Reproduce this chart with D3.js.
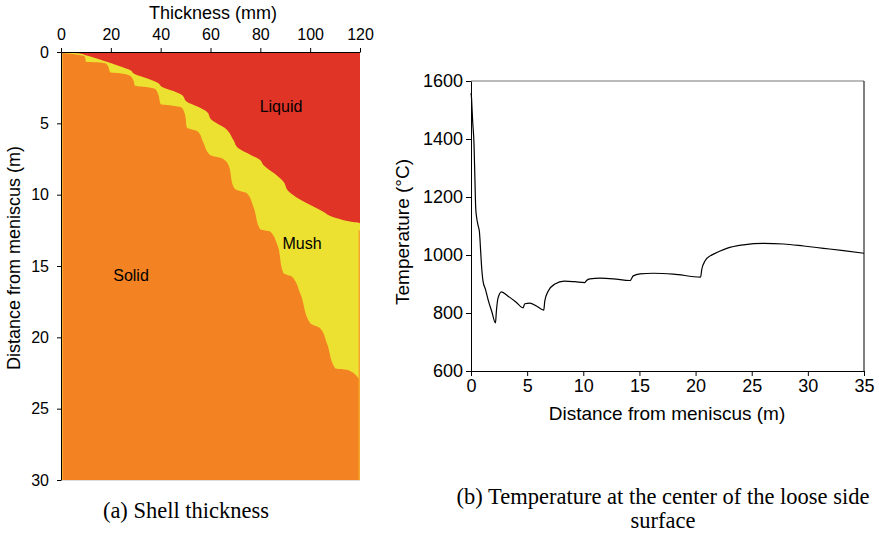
<!doctype html>
<html>
  <head>
    <script src="https://cdn.jsdelivr.net/npm/d3@7"></script>
    <style>
      body, html {
        margin: 0;
        background: #fff;
      }
      svg {
        position: absolute;
        width: 879px;
        height: 537px;
        font-family: "Liberation Sans", Arial, sans-serif;
      }
      .axis path, .axis line {
        stroke: #000;
        stroke-width: 1px;
      }
      .axis text {
        fill: #000;
      }
      .caption {
        font-family: "Liberation Serif", "Times New Roman", serif;
        font-size: 22.5px;
      }
    </style>
  </head>
  <body>
    <svg width="879" height="537"></svg>
    <script>

      // (a) shell thickness: boundaries, thickness in mm vs distance in m
      var solidThick = [0, 4, 7.6, 9.6, 10, 14, 17.7, 19, 19.7, 24, 27.7, 29, 29.7, 34, 37.8, 39.1, 40,
        44, 48.5, 49.8, 50.5, 55, 57, 59.8, 64.5, 67.2, 69.2, 70.6, 74.6, 77.2, 79.9, 83.9, 86.6, 89.3,
        92.7, 96, 100, 104, 106.7, 110, 114.7, 118.8, 120, 120];
      var solidDist = [0.05, 0.12, 0.21, 0.33, 0.68, 0.72, 0.79, 1.03, 1.42, 1.5, 1.66, 1.96, 2.36, 2.45,
        2.59, 3.01, 3.67, 3.75, 3.9, 4.41, 5.3, 5.59, 6.29, 7.22, 7.45, 7.92, 9.44, 9.67, 9.9, 10.84,
        12.43, 12.59, 13.41, 15.51, 15.75, 16.91, 19.01, 19.36, 20.41, 22.16, 22.28, 22.75, 23.2, 30];

      var liquidThick = [0, 6.9, 9.6, 15, 19, 23, 27.7, 29.7, 34.4, 39.1, 40.4, 44.5, 48.5, 50.5, 54.5,
        58.5, 60.5, 65.9, 69.2, 71.2, 76, 79.9, 81.2, 85.5, 89.3, 91.2, 98.7, 104, 110.7, 116, 120, 120];
      var liquidDist = [0.02, 0.09, 0.21, 0.49, 0.72, 0.96, 1.26, 1.56, 1.84, 2.19, 2.43, 2.7, 3.01, 3.48,
        3.8, 4.18, 4.77, 5.35, 6.17, 6.75, 7.2, 7.57, 7.92, 8.5, 9.09, 9.74, 10.6, 11.07, 11.65, 11.88, 12.0, 30];

      var thickTicks = [0, 20, 40, 60, 80, 100, 120];
      var distTicks = [0, 5, 10, 15, 20, 25, 30];

      // (b) temperature at the centre of the loose side surface
      var tempDist = [0, 0.05, 0.09, 0.15, 0.27, 0.35, 0.42, 0.5, 0.62, 0.75, 0.85, 0.93, 1.07, 1.3, 1.52,
        1.85, 2.18, 2.26, 2.41, 2.71, 3.3, 4.0, 4.64, 4.79, 5.24, 5.83, 6.48, 6.57, 6.87, 7.47, 8.3, 9.25,
        10.14, 10.29, 10.59, 11.48, 12.67, 14.16, 14.45, 15.05, 16.24, 18.02, 20.45, 20.55, 20.85, 21.3,
        21.6, 22.19, 22.78, 24.27, 26.05, 27.83, 29.62, 31.4, 33.18, 35];
      var tempVal = [1558, 1540, 1506, 1460, 1380, 1260, 1162, 1130, 1104, 1080, 1020, 967, 910, 880, 846,
        805, 766, 806, 852, 873, 858, 838, 818, 832, 834, 824, 810, 841, 875, 900, 910, 908,
        905, 912, 918, 920, 918, 912, 928, 935, 937, 934, 924, 950, 980, 997,
        1003, 1014, 1023, 1035, 1040, 1038, 1031, 1023, 1015, 1006];

      var meterTicks = [0, 5, 10, 15, 20, 25, 30, 35];
      var tempTicks = [600, 800, 1000, 1200, 1400, 1600];

      var svg = d3.select("svg");

      // ---------- (a) ----------
      var xa = d3.scaleLinear().domain([0, 120]).range([61, 360]);
      var ya = d3.scaleLinear().domain([0, 30]).range([52, 480]);

      var solid = d3.zip(solidThick, solidDist);
      var liquid = d3.zip(liquidThick, liquidDist);

      var region = d3.area()
        .y(d => ya(d[1]))
        .x0(xa(0))
        .x1(d => xa(d[0]))
        .curve(d3.curveMonotoneY);

      svg.append("rect")
        .attr("x", xa(0)).attr("y", ya(0))
        .attr("width", xa(120) - xa(0)).attr("height", ya(30) - ya(0))
        .attr("fill", "#E03427");

      svg.append("path").datum([[0, 0]].concat(liquid))
        .attr("d", region)
        .attr("fill", "#ECE031");

      svg.append("path").datum([[0, 0]].concat(solid))
        .attr("d", region)
        .attr("fill", "#F38222");

      // thin surface strips
      svg.append("rect")
        .attr("x", xa(0)).attr("y", ya(0.1))
        .attr("width", 1.5).attr("height", ya(30) - ya(0.1))
        .attr("fill", "#F2D43A");
      svg.append("rect")
        .attr("x", xa(120) - 1.5).attr("y", ya(12.5))
        .attr("width", 1.5).attr("height", ya(30) - ya(12.5))
        .attr("fill", "#F6A62A");
      svg.append("line")
        .attr("x1", xa(0)).attr("x2", xa(120))
        .attr("y1", ya(30) + 0.5).attr("y2", ya(30) + 0.5)
        .attr("stroke", "#ddd");

      svg.append("g").attr("class", "axis")
        .attr("transform", "translate(0," + ya(0) + ")")
        .call(d3.axisTop(xa).tickValues(thickTicks).tickSize(4).tickPadding(8).tickSizeOuter(0))
        .selectAll("text").style("font-size", "16px");

      svg.append("g").attr("class", "axis")
        .attr("transform", "translate(" + xa(0) + ",0)")
        .call(d3.axisLeft(ya).tickValues(distTicks).tickSize(4).tickPadding(8).tickSizeOuter(0))
        .selectAll("text").style("font-size", "16px");

      svg.append("text")
        .attr("x", 213).attr("y", 19)
        .attr("text-anchor", "middle")
        .style("font-size", "18px")
        .text("Thickness (mm)");

      svg.append("text")
        .attr("transform", "translate(20,258) rotate(-90)")
        .attr("text-anchor", "middle")
        .style("font-size", "18px")
        .text("Distance from meniscus (m)");

      var labels = [["Liquid", 281, 112], ["Mush", 302, 249], ["Solid", 131, 281]];
      svg.selectAll("text.region").data(labels).enter().append("text")
        .attr("class", "region")
        .attr("x", d => d[1]).attr("y", d => d[2])
        .attr("text-anchor", "middle")
        .style("font-size", "16px")
        .text(d => d[0]);

      svg.append("text").attr("class", "caption")
        .attr("x", 186).attr("y", 518)
        .attr("text-anchor", "middle")
        .text("(a) Shell thickness");

      // ---------- (b) ----------
      var xb = d3.scaleLinear().domain([0, 35]).range([471, 864]);
      var yb = d3.scaleLinear().domain([600, 1600]).range([371, 81]);

      svg.append("line")
        .attr("x1", xb(0)).attr("x2", xb(35))
        .attr("y1", yb(1600)).attr("y2", yb(1600))
        .attr("stroke", "#777").attr("stroke-width", 1.2);
      svg.append("line")
        .attr("x1", xb(35)).attr("x2", xb(35))
        .attr("y1", yb(1600)).attr("y2", yb(600))
        .attr("stroke", "#000");

      svg.append("path")
        .datum(d3.zip(tempDist, tempVal))
        .attr("d", d3.line().x(d => xb(d[0])).y(d => yb(d[1])).curve(d3.curveMonotoneX))
        .attr("fill", "none")
        .attr("stroke", "#000")
        .attr("stroke-width", 1.2);

      svg.append("g").attr("class", "axis")
        .attr("transform", "translate(0," + yb(600) + ")")
        .call(d3.axisBottom(xb).tickValues(meterTicks).tickSize(5).tickSizeOuter(0))
        .selectAll("text").style("font-size", "18px");

      svg.append("g").attr("class", "axis")
        .attr("transform", "translate(" + xb(0) + ",0)")
        .call(d3.axisLeft(yb).tickValues(tempTicks).tickFormat(d3.format("d")).tickSize(5).tickSizeOuter(0))
        .selectAll("text").style("font-size", "18px");

      svg.append("text")
        .attr("x", 667).attr("y", 420)
        .attr("text-anchor", "middle")
        .style("font-size", "19px")
        .text("Distance from meniscus (m)");

      svg.append("text")
        .attr("transform", "translate(409,232) rotate(-90)")
        .attr("text-anchor", "middle")
        .style("font-size", "19px")
        .text("Temperature (°C)");

      svg.append("text").attr("class", "caption")
        .attr("x", 663).attr("y", 504)
        .attr("text-anchor", "middle")
        .text("(b) Temperature at the center of the loose side");
      svg.append("text").attr("class", "caption")
        .attr("x", 663).attr("y", 528)
        .attr("text-anchor", "middle")
        .text("surface");

    </script>
  </body>
</html>
